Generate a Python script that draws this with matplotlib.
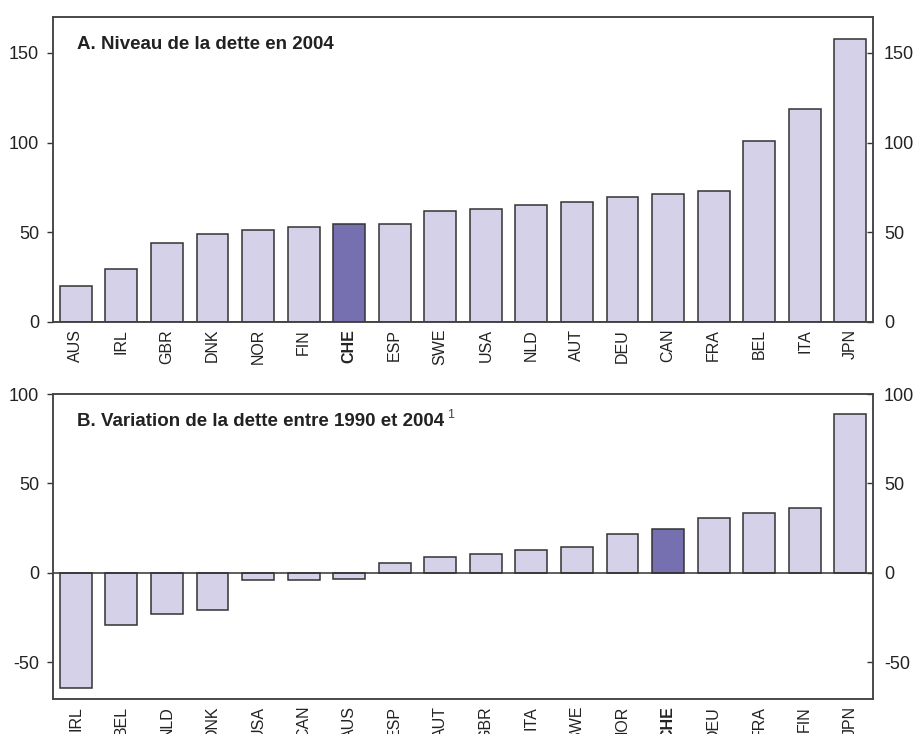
import matplotlib
matplotlib.use("Agg")
import matplotlib.pyplot as plt
import numpy as np

plt.rcParams['font.family'] = ['Liberation Sans', 'DejaVu Sans']

# Panel A: debt level in 2004
countries_a = ["AUS", "IRL", "GBR", "DNK", "NOR", "FIN", "CHE", "ESP", "SWE",
               "USA", "NLD", "AUT", "DEU", "CAN", "FRA", "BEL", "ITA", "JPN"]
debt_2004 = [20.2, 29.7, 43.9, 49.2, 51.1, 53.1, 54.4, 54.8, 62.0,
             63.2, 65.2, 66.7, 69.8, 71.5, 73.2, 100.9, 118.6, 157.6]

# Panel B: change in debt 1990-2004
countries_b = ["IRL", "BEL", "NLD", "DNK", "USA", "CAN", "AUS", "ESP", "AUT",
               "GBR", "ITA", "SWE", "NOR", "CHE", "DEU", "FRA", "FIN", "JPN"]
debt_change = [-64.4, -29.2, -22.8, -20.8, -3.7, -3.7, -3.1, 5.8, 8.9,
               10.8, 12.6, 14.7, 21.6, 24.4, 30.9, 33.3, 36.2, 88.6]

HIGHLIGHT = "CHE"
LIGHT = "#d4d1e8"
DARK = "#7670b1"
EDGE = "#333333"
TXT = "#222222"


def draw_panel(ax, cats, vals, ylim, yticks, title, sup=None):
    x = np.arange(len(cats))
    colors = [DARK if c == HIGHLIGHT else LIGHT for c in cats]
    ax.bar(x, vals, width=0.7, color=colors, edgecolor=EDGE, linewidth=1.1, zorder=2)
    ax.axhline(0, color=EDGE, linewidth=1.1, zorder=3)
    ax.set_xlim(-0.5, len(cats) - 0.5)
    ax.set_ylim(*ylim)
    ax.set_xticks(x)
    ax.set_xticklabels(cats, rotation=90, fontsize=11.5, color=TXT)
    for lab in ax.get_xticklabels():
        if lab.get_text() == HIGHLIGHT:
            lab.set_fontweight("bold")
    ax.tick_params(axis="x", length=0, pad=5)
    ax.set_yticks(yticks)
    ax.set_yticklabels([str(v) for v in yticks])
    ax.tick_params(axis="y", labelsize=13, colors=EDGE, labelcolor=TXT,
                   direction="out", length=4, width=1, pad=6)
    for s in ax.spines.values():
        s.set_color("#444444")
        s.set_linewidth(1.1)
    # right axis mirror
    ax2 = ax.twinx()
    ax2.set_ylim(*ylim)
    ax2.set_yticks(yticks)
    ax2.set_yticklabels([str(v) for v in yticks])
    ax2.tick_params(axis="y", labelsize=13, colors=EDGE, labelcolor=TXT,
                    direction="in", length=4, width=1, pad=8)
    for s in ax2.spines.values():
        s.set_color("#444444")
        s.set_linewidth(1.1)
    t = ax.text(0.029, 0.91, title, transform=ax.transAxes, fontsize=13.5,
                fontweight="bold", color=TXT, va="center", ha="left")
    if sup:
        ax.annotate(sup, xy=(1, 1), xycoords=t, xytext=(2, 3),
                    textcoords="offset points", fontsize=9, color="#444444",
                    va="top", ha="left")


fig = plt.figure(figsize=(9.23, 7.34), dpi=100)
ax_a = fig.add_axes([53 / 923, 1 - 322 / 734, 820 / 923, 305 / 734])
ax_b = fig.add_axes([53 / 923, 1 - 699 / 734, 820 / 923, 305 / 734])

draw_panel(ax_a, countries_a, debt_2004, (0, 170), [0, 50, 100, 150],
           "A. Niveau de la dette en 2004")
draw_panel(ax_b, countries_b, debt_change, (-70.4, 100), [-50, 0, 50, 100],
           "B. Variation de la dette entre 1990 et 2004", sup="1")

fig.savefig("out.png", dpi=100)
